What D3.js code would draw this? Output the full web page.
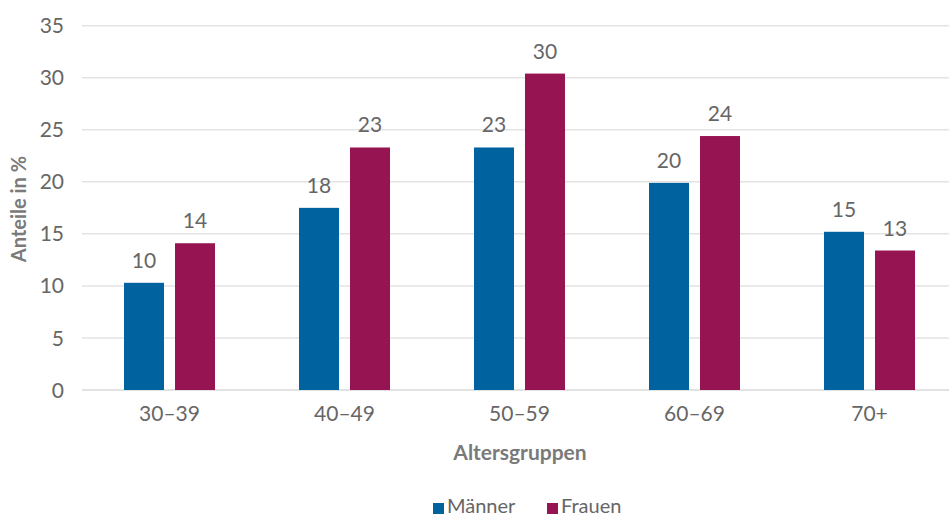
<!DOCTYPE html>
<html><head><meta charset="utf-8">
<script src="https://cdn.jsdelivr.net/npm/d3@7"></script>
<style>
body{margin:0;background:#fff;}
text{font-family:Lato, "Open Sans", sans-serif;}
</style></head>
<body><svg id="c" width="949" height="517"></svg>
<script>
const categories = ["30–39","40–49","50–59","60–69","70+"];
const seriesNames = ["Männer","Frauen"];
const maenner = [10.3, 17.5, 23.3, 19.9, 15.2];
const frauen = [14.1, 23.3, 30.4, 24.4, 13.4];
const labelsM = ["10","18","23","20","15"];
const labelsF = ["14","23","30","24","13"];
const yTicks = [0,5,10,15,20,25,30,35];
const colors = ["#0063a0","#971452"];

const svg = d3.select("#c");
const x = d3.scaleBand().domain(categories).range([82, 957]);
const x1 = d3.scaleBand().domain(seriesNames).range([0, 91]).paddingInner(11/51);
const y = d3.scaleLinear().domain([0,35]).range([390, 25.7]);

// gridlines
svg.append("g").selectAll("line").data(yTicks).join("line")
  .attr("x1",82).attr("x2",949)
  .attr("y1",d=>y(d)).attr("y2",d=>y(d))
  .attr("stroke",d=>d===0?"#d9d9d9":"#e3e3e3").attr("stroke-width",1.5);

// y tick labels
svg.append("g").selectAll("text").data(yTicks).join("text")
  .attr("x",64).attr("y",d=>y(d)).attr("dy","0.36em")
  .attr("text-anchor","end").attr("font-size",21).attr("fill","#666")
  .text(d=>d);

// x tick labels
svg.append("g").selectAll("text").data(categories).join("text")
  .attr("x",d=>x(d)+x.bandwidth()/2).attr("y",421)
  .attr("text-anchor","middle").attr("font-size",21).attr("fill","#666")
  .text(d=>d);

const series = [maenner, frauen];
const labels = [labelsM, labelsF];
series.forEach((vals,si)=>{
  const g = svg.append("g");
  const off = x.bandwidth()/2 - 45.5;
  g.selectAll("rect").data(vals).join("rect")
    .attr("x",(d,i)=>x(categories[i])+off+x1(seriesNames[si]))
    .attr("width",x1.bandwidth())
    .attr("y",d=>y(d)).attr("height",d=>y(0)-y(d))
    .attr("fill",colors[si]);
  g.selectAll("text").data(vals).join("text")
    .attr("x",(d,i)=>x(categories[i])+off+x1(seriesNames[si])+x1.bandwidth()/2)
    .attr("y",d=>y(d)-15)
    .attr("text-anchor","middle").attr("font-size",21).attr("fill","#666")
    .text((d,i)=>labels[si][i]);
});

// axis titles
svg.append("text").attr("transform","translate(26,209) rotate(-90)")
  .attr("text-anchor","middle").attr("font-size",20).attr("font-weight","bold").attr("fill","#7a7a7a")
  .text("Anteile in %");
svg.append("text").attr("x",520).attr("y",460)
  .attr("text-anchor","middle").attr("font-size",21).attr("font-weight","bold").attr("fill","#7a7a7a")
  .text("Altersgruppen");

// legend
const leg = svg.append("g");
const legX = [433, 547];
seriesNames.forEach((n,i)=>{
  leg.append("rect").attr("x",legX[i]).attr("y",503).attr("width",11).attr("height",11).attr("fill",colors[i]);
  leg.append("text").attr("x",legX[i]+14).attr("y",513).attr("font-size",20).attr("fill","#666").text(n);
});
</script></body></html>
